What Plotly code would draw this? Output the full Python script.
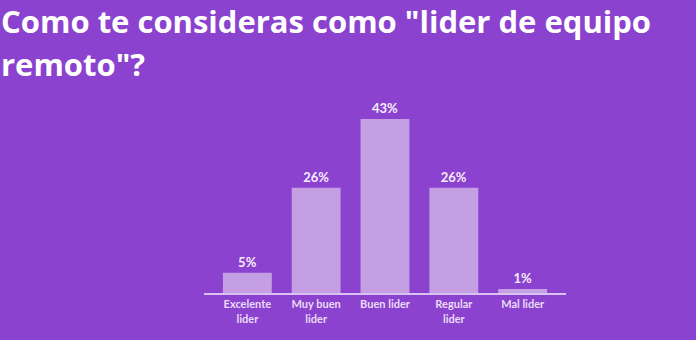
import plotly.graph_objects as go

categories = ["Excelente<br>lider", "Muy buen<br>lider", "Buen lider", "Regular<br>lider", "Mal lider"]
values = [5, 26, 43, 26, 1]
labels = ["5%", "26%", "43%", "26%", "1%"]
title_lines = ['Como te consideras como "lider de equipo', 'remoto"?']

bg = "#8b42cf"
bar_color = "#c59fe4"

fig = go.Figure()
fig.add_trace(go.Bar(
    x=categories, y=values, text=labels,
    textposition="outside", cliponaxis=False,
    textfont=dict(family="Lato", size=13, color="#f6eefc", weight="bold"),
    marker=dict(color=bar_color, line=dict(width=0)),
    width=0.71,
))

fig.update_layout(
    width=696, height=340,
    margin=dict(l=204, r=130, t=100, b=47),
    paper_bgcolor=bg, plot_bgcolor=bg,
    showlegend=False,
    xaxis=dict(range=[-0.63, 4.63], showline=True, linecolor="#d9c2f1", linewidth=2,
               showgrid=False, zeroline=False, ticks="",
               tickfont=dict(family="Lato", size=11, color="#eadcf7", weight="bold")),
    yaxis=dict(range=[0, 47.7], visible=False, showgrid=False, zeroline=False),
)

shifts = [1, -42]
for i, line in enumerate(title_lines):
    fig.add_annotation(
        text=line, xref="paper", yref="paper",
        x=-204/362, y=1 + 100/192.7, xshift=0, yshift=shifts[i],
        xanchor="left", yanchor="top", showarrow=False, borderpad=0,
        font=dict(family="Open Sans", size=31, color="#ffffff", weight="bold"),
    )

fig.write_html("out.html")
